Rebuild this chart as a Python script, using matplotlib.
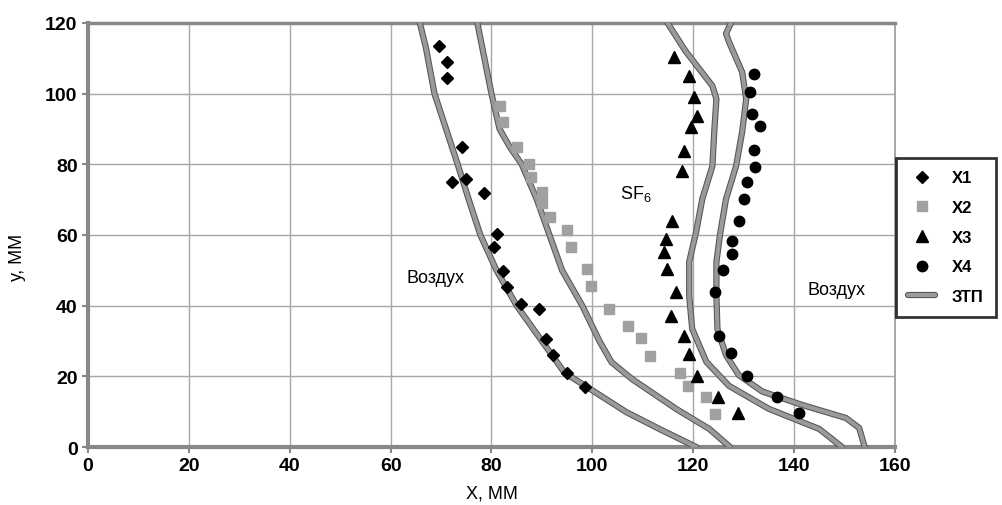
import numpy as np
import matplotlib.pyplot as plt
import matplotlib.patheffects as pe
from matplotlib.lines import Line2D

plt.rcParams['font.family'] = ['Liberation Sans', 'DejaVu Sans']
plt.rcParams['mathtext.default'] = 'regular'

# --- boundary curves (ЗТП) ---
curve_a_x = [65.8, 67, 68.7, 71, 73.3, 75.5, 77.8, 81, 85, 90, 94.5, 99.6, 106.7, 113.3, 120.6]
curve_a_y = [120, 113, 100, 90, 80, 70, 60, 50, 40, 30, 21, 16.4, 9.9, 5.1, 0]

curve_b_x = [77.2, 80, 81.6, 83.6, 86, 89, 91.5, 94, 98, 101.4, 103.8, 107.9, 116.6, 123.2, 127.3]
curve_b_y = [120, 100, 90, 85, 80, 70, 60, 50, 40, 30, 24, 19.2, 10.8, 5.1, 0]

curve_c_x = [114.9, 118.5, 123.8, 124.6, 124.2, 123.8, 121.8, 120.6, 119.2, 119.2, 119.8, 122.6, 127.1, 135, 145, 149.5]
curve_c_y = [120, 112, 102.2, 98.5, 90, 79.5, 70.2, 61, 52.4, 42.7, 33.4, 24.1, 17.3, 10.8, 5.1, 0]

curve_d_x = [127.5, 126.5, 127.1, 129.7, 130.5, 129.7, 128.5, 126.5, 125.3, 124.6, 124.6, 124.8, 126.5, 129, 133.7, 141.6, 150.3, 152.9, 154]
curve_d_y = [120, 117, 114.6, 106.1, 98.5, 89.2, 79.5, 70.2, 60, 52.4, 42.7, 33.4, 26, 20.4, 15.7, 11.9, 8.2, 5.4, 0]

# --- measured points ---
x1_x = [69.5, 71.1, 71.1, 74.1, 75, 72.1, 78.6, 81, 80.6, 82.2, 83, 85.9, 89.5, 90.9, 92.1, 95, 98.6]
x1_y = [113.5, 109, 104.4, 84.9, 75.9, 75, 71.9, 60.3, 56.6, 49.8, 45.3, 40.5, 39, 30.6, 26, 20.9, 17]

x2_x = [81.6, 82.2, 85.1, 87.5, 87.9, 90.1, 90.1, 91.7, 94.9, 95.8, 99, 99.8, 103.4, 107.1, 109.7, 111.5, 117.4, 119, 122.6, 124.4]
x2_y = [96.5, 92, 84.9, 80.1, 76.4, 72.2, 69.1, 65.1, 61.4, 56.6, 50.4, 45.6, 39, 34.2, 30.8, 25.8, 20.9, 17.3, 14.2, 9.3]

x3_x = [116.2, 119.2, 120.2, 120.8, 119.6, 118.2, 117.8, 115.8, 114.7, 114.3, 114.9, 116.6, 115.6, 118.2, 119.2, 120.8, 125, 128.9]
x3_y = [110.4, 105, 99, 93.7, 90.6, 83.8, 78.1, 64, 58.9, 55.2, 50.4, 43.9, 37.1, 31.4, 26.3, 20.1, 14.2, 9.6]

x4_x = [132.1, 131.3, 131.7, 133.3, 132.1, 132.3, 130.7, 130.1, 129.1, 127.7, 127.7, 125.9, 124.4, 125.1, 127.5, 130.7, 136.6, 141]
x4_y = [105.6, 100.5, 94.3, 90.9, 84.1, 79.3, 75, 70.2, 64, 58.3, 54.6, 50.1, 43.9, 31.4, 26.6, 20.1, 14.2, 9.6]

fig = plt.figure(figsize=(10.03, 5.06), dpi=100)
ax = fig.add_axes([0.0877, 0.1146, 0.8046, 0.838])

line_fx = [pe.Stroke(linewidth=4.5, foreground='#555555'), pe.Normal()]
for cx, cy in [(curve_a_x, curve_a_y), (curve_b_x, curve_b_y),
               (curve_c_x, curve_c_y), (curve_d_x, curve_d_y)]:
    ax.plot(cx, cy, color='#9a9a9a', lw=3, solid_capstyle='round',
            path_effects=line_fx, zorder=3)

ax.plot(x1_x, x1_y, 'D', color='black', ms=6, ls='none', zorder=4)
ax.plot(x2_x, x2_y, 's', color='#a0a0a0', ms=7, ls='none', zorder=4)
ax.plot(x3_x, x3_y, '^', color='black', ms=8, ls='none', zorder=4)
ax.plot(x4_x, x4_y, 'o', color='black', ms=7.5, ls='none', zorder=4)

ax.text(69, 48, 'Воздух', fontsize=13, ha='center', va='center')
ax.text(148.5, 44.5, 'Воздух', fontsize=13, ha='center', va='center')
ax.text(108.7, 72, 'SF$_6$', fontsize=13, ha='center', va='center')

ax.set_xlim(0, 160)
ax.set_ylim(0, 120)
ax.set_xticks(np.arange(0, 161, 20))
ax.set_yticks(np.arange(0, 121, 20))
ax.grid(True, color='#a8a8a8', lw=1)
ax.set_axisbelow(True)
ax.tick_params(labelsize=14, length=4, color='#888888', width=1.5)
for lab in ax.get_xticklabels() + ax.get_yticklabels():
    lab.set_fontweight('bold')
ax.spines['left'].set_color('#888888')
ax.spines['left'].set_linewidth(3)
ax.spines['bottom'].set_color('#888888')
ax.spines['bottom'].set_linewidth(3)
ax.spines['top'].set_color('#888888')
ax.spines['top'].set_linewidth(2.5)
ax.spines['right'].set_color('#999999')
ax.spines['right'].set_linewidth(1.2)

ax.set_xlabel('Х, ММ', fontsize=13)
ax.xaxis.set_label_coords(0.5, -0.088)
ax.set_ylabel('у, ММ', fontsize=13)
ax.yaxis.set_label_coords(-0.077, 0.45)

handles = [
    Line2D([], [], marker='D', color='black', ls='none', ms=6),
    Line2D([], [], marker='s', color='#a0a0a0', ls='none', ms=7),
    Line2D([], [], marker='^', color='black', ls='none', ms=8),
    Line2D([], [], marker='o', color='black', ls='none', ms=7.5),
    Line2D([], [], color='#9a9a9a', lw=3, solid_capstyle='round', path_effects=line_fx),
]
labels = ['X1', 'X2', 'X3', 'X4', 'ЗТП']
leg = fig.legend(handles, labels, loc='upper left', bbox_to_anchor=(0.893, 0.686),
                 frameon=True, fancybox=False, edgecolor='black', borderaxespad=0,
                 prop={'weight': 'bold', 'size': 12}, handlelength=1.6,
                 labelspacing=0.88, borderpad=0.75, handletextpad=1.0)
leg.get_frame().set_linewidth(2)

plt.savefig('out.png', dpi=100)
